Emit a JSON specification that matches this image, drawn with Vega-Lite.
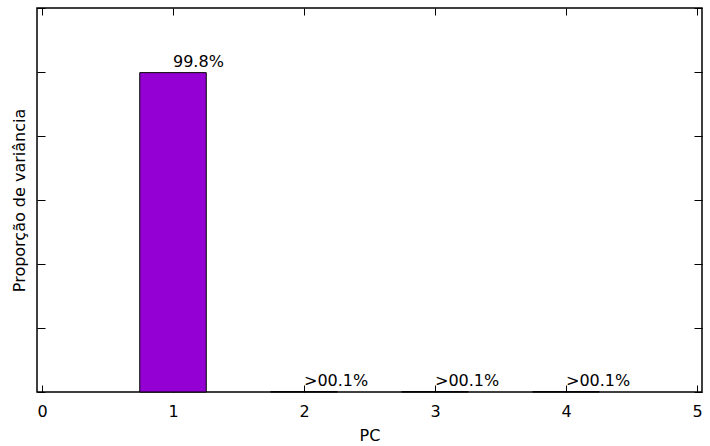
{
  "$schema": "https://vega.github.io/schema/vega-lite/v6.json",
  "width": 665,
  "height": 384,
  "autosize": {"type": "none"},
  "padding": {"left": 37, "top": 8, "right": 8, "bottom": 54},
  "background": "white",
  "config": {
    "font": "DejaVu Sans",
    "view": {"stroke": "black", "strokeWidth": 1.5},
    "axis": {"grid": false, "domain": false, "tickColor": "black", "labelColor": "black", "titleColor": "black", "labelFont": "DejaVu Sans", "titleFont": "DejaVu Sans", "labelFontSize": 16, "titleFontSize": 16, "titleFontWeight": "normal"}
  },
  "data": {
    "values": [
      {"pc": 1, "prop": 0.998, "label": "99.8%"},
      {"pc": 2, "prop": 0.001, "label": ">00.1%"},
      {"pc": 3, "prop": 0.001, "label": ">00.1%"},
      {"pc": 4, "prop": 0.001, "label": ">00.1%"}
    ]
  },
  "resolve": {"axis": {"x": "independent", "y": "independent"}},
  "layer": [
    {
      "mark": {"type": "bar", "width": 66.5, "color": "#9400D3", "stroke": "black", "strokeWidth": 1},
      "encoding": {
        "x": {"field": "pc", "type": "quantitative", "scale": {"domain": [0, 5], "nice": false, "zero": false},
              "axis": {"title": "PC", "values": [0, 1, 2, 3, 4, 5], "format": "d", "tickSize": -7, "tickWidth": 1, "labelPadding": 18, "titlePadding": 8, "labelFlush": false}},
        "y": {"field": "prop", "type": "quantitative", "scale": {"domain": [0, 1.2], "nice": false},
              "axis": {"title": "Proporção de variância", "values": [0, 0.2, 0.4, 0.6, 0.8, 1.0, 1.2], "labels": false, "tickSize": -8, "tickWidth": 1, "titlePadding": 9}}
      }
    },
    {
      "mark": {"type": "text", "align": "left", "baseline": "alphabetic", "dy": -6, "fontSize": 16, "color": "black", "font": "DejaVu Sans"},
      "encoding": {
        "x": {"field": "pc", "type": "quantitative",
              "axis": {"orient": "top", "title": null, "values": [0, 1, 2, 3, 4, 5], "labels": false, "tickSize": -7, "tickWidth": 1}},
        "y": {"field": "prop", "type": "quantitative",
              "axis": {"orient": "right", "title": null, "values": [0, 0.2, 0.4, 0.6, 0.8, 1.0, 1.2], "labels": false, "tickSize": -8, "tickWidth": 1}},
        "text": {"field": "label"}
      }
    }
  ]
}
